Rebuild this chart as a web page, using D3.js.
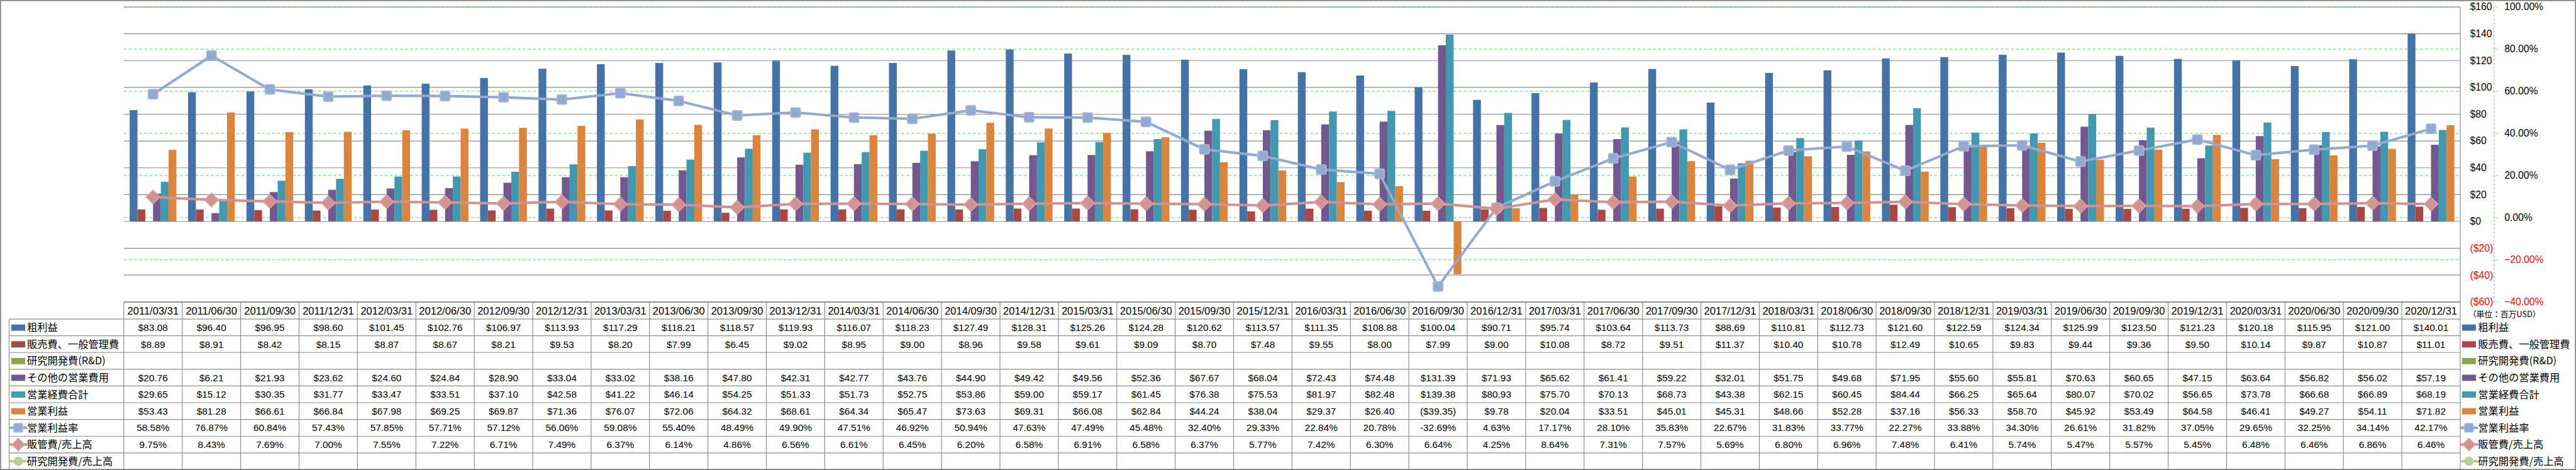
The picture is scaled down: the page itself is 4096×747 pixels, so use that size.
<!DOCTYPE html>
<html><head><meta charset="utf-8">
<script src="https://cdn.jsdelivr.net/npm/d3@7"></script>
<style>html,body{margin:0;padding:0;background:#fff;overflow:hidden}svg{display:block}</style>
</head><body><svg id="chart"></svg>
<script>
const dates = ["2011/03/31","2011/06/30","2011/09/30","2011/12/31","2012/03/31","2012/06/30","2012/09/30","2012/12/31",
"2013/03/31","2013/06/30","2013/09/30","2013/12/31","2014/03/31","2014/06/30","2014/09/30","2014/12/31",
"2015/03/31","2015/06/30","2015/09/30","2015/12/31","2016/03/31","2016/06/30","2016/09/30","2016/12/31",
"2017/03/31","2017/06/30","2017/09/30","2017/12/31","2018/03/31","2018/06/30","2018/09/30","2018/12/31",
"2019/03/31","2019/06/30","2019/09/30","2019/12/31","2020/03/31","2020/06/30","2020/09/30","2020/12/31"];
const grossProfit = [83.08,96.40,96.95,98.60,101.45,102.76,106.97,113.93,117.29,118.21,118.57,119.93,116.07,118.23,127.49,128.31,125.26,124.28,120.62,113.57,111.35,108.88,100.04,90.71,95.74,103.64,113.73,88.69,110.81,112.73,121.60,122.59,124.34,125.99,123.50,121.23,120.18,115.95,121.00,140.01];
const sga = [8.89,8.91,8.42,8.15,8.87,8.67,8.21,9.53,8.20,7.99,6.45,9.02,8.95,9.00,8.96,9.58,9.61,9.09,8.70,7.48,9.55,8.00,7.99,9.00,10.08,8.72,9.51,11.37,10.40,10.78,12.49,10.65,9.83,9.44,9.36,9.50,10.14,9.87,10.87,11.01];
const rnd = [];
const otherOpex = [20.76,6.21,21.93,23.62,24.60,24.84,28.90,33.04,33.02,38.16,47.80,42.31,42.77,43.76,44.90,49.42,49.56,52.36,67.67,68.04,72.43,74.48,131.39,71.93,65.62,61.41,59.22,32.01,51.75,49.68,71.95,55.60,55.81,70.63,60.65,47.15,63.64,56.82,56.02,57.19];
const totalOpex = [29.65,15.12,30.35,31.77,33.47,33.51,37.10,42.58,41.22,46.14,54.25,51.33,51.73,52.75,53.86,59.00,59.17,61.45,76.38,75.53,81.97,82.48,139.38,80.93,75.70,70.13,68.73,43.38,62.15,60.45,84.44,66.25,65.64,80.07,70.02,56.65,73.78,66.68,66.89,68.19];
const opIncome = [53.43,81.28,66.61,66.84,67.98,69.25,69.87,71.36,76.07,72.06,64.32,68.61,64.34,65.47,73.63,69.31,66.08,62.84,44.24,38.04,29.37,26.40,-39.35,9.78,20.04,33.51,45.01,45.31,48.66,52.28,37.16,56.33,58.70,45.92,53.49,64.58,46.41,49.27,54.11,71.82];
const opMargin = [58.58,76.87,60.84,57.43,57.85,57.71,57.12,56.06,59.08,55.40,48.49,49.90,47.51,46.92,50.94,47.63,47.49,45.48,32.40,29.33,22.84,20.78,-32.69,4.63,17.17,28.10,35.83,22.67,31.83,33.77,22.27,33.88,34.30,26.61,31.82,37.05,29.65,32.25,34.14,42.17];
const sgaRatio = [9.75,8.43,7.69,7.00,7.55,7.22,6.71,7.49,6.37,6.14,4.86,6.56,6.61,6.45,6.20,6.58,6.91,6.58,6.37,5.77,7.42,6.30,6.64,4.25,8.64,7.31,7.57,5.69,6.80,6.96,7.48,6.41,5.74,5.47,5.57,5.45,6.48,6.46,6.86,6.46];
const rndRatio = [];
const seriesNames = ["粗利益","販売費、一般管理費","研究開発費(R&D)","その他の営業費用","営業経費合計","営業利益","営業利益率","販管費/売上高","研究開発費/売上高"];
const leftTicks = [-60,-40,-20,0,20,40,60,80,100,120,140,160];
const rightTicks = [-40,-20,0,20,40,60,80,100];
const unitLabel = "（単位：百万USD）";

const colors = ["#4572A7","#AA4643","#89A54E","#71588F","#4198AF","#DB843D","#93A9CF","#D19392","#B9CD96"];
const barData = [grossProfit, sga, rnd, otherOpex, totalOpex, opIncome];
const lineData = [opMargin, sgaRatio, rndRatio];
const markers = ["square","diamond","circle"];

const W = 7052, H = 1286;
const svg = d3.select("#chart").attr("width", 4096).attr("height", 747).attr("viewBox", `0 0 ${W} ${H}`);
svg.append("rect").attr("x",0).attr("y",0).attr("width",W).attr("height",H).attr("fill","#fff");

const plotL = 339, plotR = 6735, plotT = 19, plotB = 826;
const x = d3.scaleBand().domain(dates).range([plotL, plotR]);
const bw = x.bandwidth();
const x1 = d3.scaleBand().domain(d3.range(barData.length)).range([bw*0.1, bw*0.9]);
const yL = d3.scaleLinear().domain([-60,160]).range([plotB, plotT]);
const yR = d3.scaleLinear().domain([-40,100]).range([plotB, plotT]);

const FONT = "'Liberation Sans', Arial, 'Noto Sans CJK JP', sans-serif";
const CJK = "'Noto Sans CJK JP', 'Liberation Sans', sans-serif";
const GREEN = "#2fe62f";

// gridlines
svg.append("g").selectAll("line").data(leftTicks).join("line")
  .attr("x1", plotL).attr("x2", plotR).attr("y1", d=>yL(d)).attr("y2", d=>yL(d))
  .attr("stroke", "#8a8a8a").attr("stroke-width", 2);
svg.append("g").selectAll("line").data(rightTicks).join("line")
  .attr("x1", plotL).attr("x2", plotR).attr("y1", d=>yR(d)).attr("y2", d=>yR(d))
  .attr("stroke", GREEN).attr("stroke-width", 1.6).attr("stroke-dasharray", "8,6");
// plot right border
svg.append("line").attr("x1", plotR).attr("x2", plotR).attr("y1", plotT).attr("y2", plotB)
  .attr("stroke", "#8a8a8a").attr("stroke-width", 2);

// bars
barData.forEach((vals, si) => {
  svg.append("g").selectAll("rect").data(vals.map((v,i)=>({v, d:dates[i]}))).join("rect")
    .attr("x", d => x(d.d) + x1(si))
    .attr("width", x1.bandwidth())
    .attr("y", d => Math.min(yL(d.v), yL(0)))
    .attr("height", d => Math.abs(yL(d.v) - yL(0)))
    .attr("fill", colors[si]);
});

// lines
function drawMarker(g, type, color, cx, cy, scale=1) {
  if (type === "square") {
    const s = 26*scale;
    g.append("rect").attr("x", cx - s/2).attr("y", cy - s/2).attr("width", s).attr("height", s)
      .attr("rx", 4).attr("fill", color).attr("stroke", "#a3b7da").attr("stroke-width", 3);
  } else if (type === "diamond") {
    g.append("path").attr("d", d3.symbol(d3.symbolSquare, 700*scale*scale)())
      .attr("transform", `translate(${cx},${cy}) rotate(45)`)
      .attr("fill", color).attr("stroke", "#d9a09f").attr("stroke-width", 3).attr("stroke-linejoin", "round");
  } else {
    g.append("circle").attr("cx", cx).attr("cy", cy).attr("r", 14*scale).attr("fill", color);
  }
}
lineData.forEach((vals, li) => {
  if (!vals.length) return;
  const color = colors[6+li];
  const g = svg.append("g");
  const pts = vals.map((v,i)=>[x(dates[i]) + bw/2, yR(v)]);
  g.append("path").attr("d", d3.line()(pts)).attr("fill","none")
    .attr("stroke", color).attr("stroke-width", 7).attr("stroke-linejoin","round");
  pts.forEach(p => drawMarker(g, markers[li], color, p[0], p[1]));
});

// axes
const axL = d3.axisRight(yL).tickValues(leftTicks).tickSize(0).tickPadding(0)
  .tickFormat(v => v < 0 ? `($${Math.abs(v)})` : `$${v}`);
const gL = svg.append("g").attr("transform", `translate(6762,0)`).call(axL);
gL.select(".domain").remove();
gL.selectAll("text").attr("font-family", FONT).attr("font-size", 27)
  .attr("fill", d => d < 0 ? "#ff0000" : "#000");

const axR = d3.axisRight(yR).tickValues(rightTicks).tickSize(11).tickSizeOuter(0).tickPadding(18)
  .tickFormat(v => d3.format(".2f")(v) + "%");
const gR = svg.append("g").attr("transform", `translate(6827,0)`).call(axR);
gR.select(".domain").attr("stroke", GREEN).attr("stroke-width", 1.6).attr("stroke-dasharray", "6,5");
gR.selectAll(".tick line").attr("stroke", GREEN).attr("stroke-width", 1.6).attr("stroke-dasharray", "4,3");
gR.selectAll("text").attr("font-family", FONT).attr("font-size", 27)
  .attr("fill", d => d < 0 ? "#ff0000" : "#000");

svg.append("text").attr("x", 6757).attr("y", 867).attr("font-family", CJK).attr("font-size", 22)
  .text(unitLabel);

// data table
const tblTop = 827, headH = 46, rowTop = 873, rowH = (1285 - 873) / 9, tblLeft = 25;
const lineCol = "#8c8c8c";
const money = v => v < 0 ? `($${Math.abs(v).toFixed(2)})` : `$${v.toFixed(2)}`;
const pct = v => `${v.toFixed(2)}%`;
const tableRows = [
  {vals: grossProfit, f: money}, {vals: sga, f: money}, {vals: rnd, f: money},
  {vals: otherOpex, f: money}, {vals: totalOpex, f: money}, {vals: opIncome, f: money},
  {vals: opMargin, f: pct}, {vals: sgaRatio, f: pct}, {vals: rndRatio, f: pct}
];
const tg = svg.append("g");
tg.append("line").attr("x1", plotL).attr("x2", plotR).attr("y1", tblTop).attr("y2", tblTop)
  .attr("stroke", lineCol).attr("stroke-width", 2);
d3.range(10).forEach(i => {
  tg.append("line").attr("x1", tblLeft).attr("x2", plotR)
    .attr("y1", rowTop + i*rowH).attr("y2", rowTop + i*rowH)
    .attr("stroke", lineCol).attr("stroke-width", 2);
});
tg.append("line").attr("x1", tblLeft).attr("x2", tblLeft).attr("y1", rowTop).attr("y2", 1285)
  .attr("stroke", lineCol).attr("stroke-width", 2);
dates.concat(["end"]).forEach((d,i) => {
  const xx = i < dates.length ? x(d) : plotR;
  tg.append("line").attr("x1", xx).attr("x2", xx).attr("y1", tblTop).attr("y2", 1285)
    .attr("stroke", lineCol).attr("stroke-width", 2);
});
tg.selectAll("text.date").data(dates).join("text").attr("class","date")
  .attr("x", d => x(d) + bw/2).attr("y", tblTop + headH/2).attr("dy", "0.36em")
  .attr("text-anchor", "middle").attr("font-family", FONT).attr("font-size", 28.5).text(d => d);
tableRows.forEach((r, ri) => {
  const cy = rowTop + ri*rowH + rowH/2;
  tg.append("g").selectAll("text").data(r.vals.map((v,i)=>({v, d:dates[i]}))).join("text")
    .attr("x", d => x(d.d) + bw/2).attr("y", cy).attr("dy", "0.36em")
    .attr("text-anchor", "middle").attr("font-family", FONT).attr("font-size", 26.5)
    .text(d => r.f(d.v));
});

function legendKey(g, i, kx, cy) {
  if (i < 6) {
    g.append("rect").attr("x", kx).attr("y", cy - 8).attr("width", 38).attr("height", 17).attr("fill", colors[i]);
  } else {
    g.append("line").attr("x1", kx - 6).attr("x2", kx + 44).attr("y1", cy).attr("y2", cy)
      .attr("stroke", colors[i]).attr("stroke-width", 7);
    drawMarker(g, markers[i-6], colors[i], kx + 19, cy, 0.9);
  }
}
seriesNames.forEach((name, i) => {
  const cy = rowTop + i*rowH + rowH/2;
  legendKey(tg, i, 31, cy);
  tg.append("text").attr("x", 74).attr("y", cy).attr("dy", "0.36em")
    .attr("font-family", CJK).attr("font-size", 28).text(name);
  legendKey(tg, i, 6740, cy);
  tg.append("text").attr("x", 6784).attr("y", cy).attr("dy", "0.36em")
    .attr("font-family", CJK).attr("font-size", 28).text(name);
});

svg.append("rect").attr("x", 1.5).attr("y", 1.5).attr("width", W-3).attr("height", H-3)
  .attr("fill", "none").attr("stroke", "#888").attr("stroke-width", 3);
</script></body></html>
